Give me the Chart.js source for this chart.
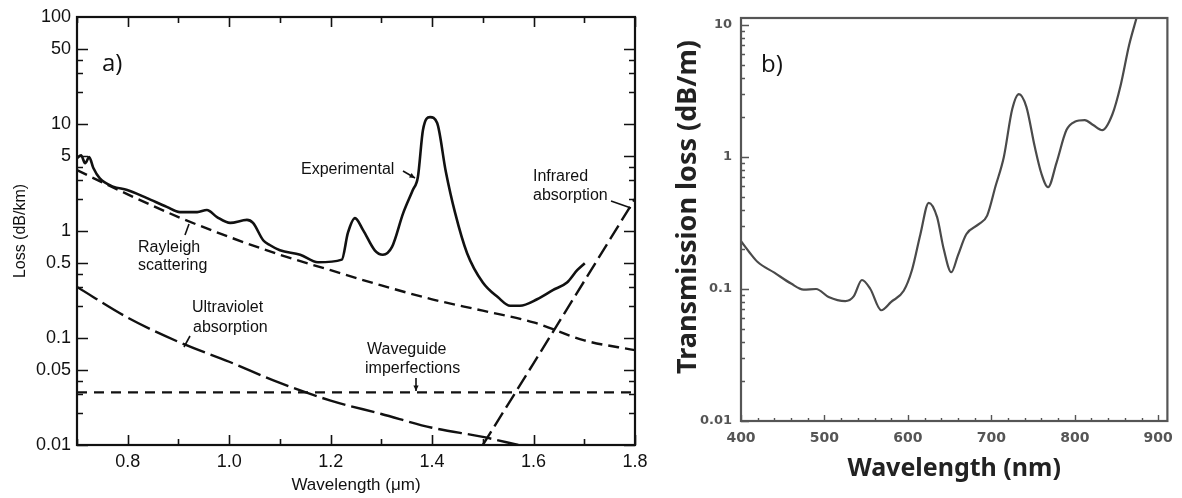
<!DOCTYPE html>
<html>
<head>
<meta charset="utf-8">
<script src="https://cdn.jsdelivr.net/npm/chart.js@4"></script>
<style>
  body { margin: 0; background: #fff; }
  #wrap { position: relative; width: 1182px; height: 498px; }
  canvas { position: absolute; top: 0; }
  #chartA { left: 0; }
  #chartB { left: 655px; }
</style>
</head>
<body>
<div id="wrap">
  <canvas id="chartA" width="655" height="498"></canvas>
  <canvas id="chartB" width="527" height="498"></canvas>
</div>
<script>
// ---- panel a) : fibre loss (dB/km) vs wavelength (um)
const expWl   = [0.700, 0.708, 0.716, 0.724, 0.732, 0.745, 0.771, 0.799, 0.838, 0.877, 0.903, 0.937, 0.956, 0.976, 1.002, 1.035, 1.047, 1.067, 1.080, 1.100, 1.140, 1.175, 1.222, 1.234, 1.248, 1.264, 1.287, 1.303, 1.321, 1.343, 1.362, 1.372, 1.382, 1.396, 1.410, 1.427, 1.445, 1.469, 1.500, 1.530, 1.554, 1.573, 1.607, 1.638, 1.666, 1.686, 1.701];
const expLoss = [4.8, 5.1, 4.3, 4.9, 3.9, 3.1, 2.6, 2.42, 2.03, 1.68, 1.50, 1.50, 1.57, 1.35, 1.19, 1.27, 1.19, 0.82, 0.74, 0.66, 0.60, 0.51, 0.54, 0.96, 1.32, 1.02, 0.66, 0.60, 0.71, 1.47, 2.42, 3.2, 8.8, 11.6, 10.2, 3.6, 1.5, 0.62, 0.33, 0.24, 0.20, 0.20, 0.23, 0.28, 0.33, 0.43, 0.50];

const rayWl   = [0.7, 0.8, 0.9, 1.0, 1.1, 1.2, 1.3, 1.4, 1.5, 1.6, 1.7, 1.8];
const rayLoss = [3.7, 2.2, 1.35, 0.88, 0.60, 0.43, 0.31, 0.23, 0.18, 0.14, 0.095, 0.077];

const uvWl   = [0.7, 0.8, 0.9, 1.0, 1.1, 1.2, 1.3, 1.4, 1.5, 1.57];
const uvLoss = [0.30, 0.155, 0.092, 0.06, 0.038, 0.026, 0.0195, 0.0145, 0.0119, 0.01];

const wgWl   = [0.7, 1.8];
const wgLoss = [0.031, 0.031];

const irWl   = [1.5, 1.6, 1.7, 1.8];
const irLoss = [0.01, 0.058, 0.34, 2.0];

const wlTicksA   = [0.8, 1.0, 1.2, 1.4, 1.6, 1.8];
const lossTicksA = [0.01, 0.05, 0.1, 0.5, 1, 5, 10, 50, 100];

// ---- panel b) : transmission loss (dB/m) vs wavelength (nm)
const transWl   = [400, 410, 420, 440, 460, 475, 490, 505, 525, 535, 545, 555, 568, 580, 595, 605, 615, 625, 635, 643, 652, 660, 670, 685, 695, 705, 715, 725, 733, 742, 752, 760, 768, 778, 790, 800, 812, 822, 833, 845, 855, 865, 874];
const transLoss = [0.23, 0.19, 0.16, 0.133, 0.11, 0.099, 0.10, 0.087, 0.081, 0.088, 0.117, 0.10, 0.069, 0.08, 0.097, 0.14, 0.26, 0.45, 0.35, 0.2, 0.134, 0.18, 0.26, 0.31, 0.36, 0.6, 1.0, 2.3, 3.0, 2.4, 1.2, 0.75, 0.59, 0.9, 1.6, 1.85, 1.9, 1.75, 1.6, 2.1, 3.5, 7.0, 11.3];

const wlTicksB   = [400, 500, 600, 700, 800, 900];
const lossTicksB = [0.01, 0.1, 1, 10];

function pts(xs, ys) { return xs.map((x, i) => ({ x: x, y: ys[i] })); }

// ticks drawn inside the frame, plus the frame itself
const frameTicks = {
  id: 'frameTicks',
  afterDraw(chart, args, o) {
    const { ctx, chartArea: a, scales: { x, y } } = chart;
    ctx.save();
    ctx.strokeStyle = o.color;
    ctx.lineWidth = o.tickWidth;
    ctx.beginPath();
    o.xTicks.forEach(t => {
      const px = Math.round(x.getPixelForValue(t.v)) + 0.5;
      ctx.moveTo(px, a.bottom); ctx.lineTo(px, a.bottom - t.len);
      if (o.top) { ctx.moveTo(px, a.top); ctx.lineTo(px, a.top + t.len); }
    });
    o.yTicks.forEach(t => {
      const py = Math.round(y.getPixelForValue(t.v)) + 0.5;
      ctx.moveTo(a.left, py); ctx.lineTo(a.left + t.len, py);
      if (o.right) { ctx.moveTo(a.right, py); ctx.lineTo(a.right - t.len, py); }
    });
    ctx.stroke();
    ctx.lineWidth = o.frameWidth;
    ctx.strokeRect(a.left, a.top, a.right - a.left, a.bottom - a.top);
    ctx.restore();
  }
};

// free text labels and their little leader lines
const notes = {
  id: 'notes',
  afterDraw(chart, args, o) {
    const ctx = chart.ctx;
    ctx.save();
    ctx.textBaseline = 'middle';
    ctx.textAlign = 'left';
    o.texts.forEach(t => {
      ctx.save();
      ctx.fillStyle = t.color || o.color;
      ctx.font = t.font;
      ctx.translate(t.x, t.y);
      if (t.rot) ctx.rotate(t.rot);
      ctx.fillText(t.text, 0, 0);
      ctx.restore();
    });
    ctx.fillStyle = o.color;
    ctx.strokeStyle = o.color;
    ctx.lineWidth = 1.6;
    (o.leaders || []).forEach(l => {
      ctx.beginPath();
      ctx.moveTo(l[0], l[1]); ctx.lineTo(l[2], l[3]);
      ctx.stroke();
      if (l[4]) {
        const ang = Math.atan2(l[3] - l[1], l[2] - l[0]);
        ctx.beginPath();
        ctx.moveTo(l[2], l[3]);
        ctx.lineTo(l[2] - 6 * Math.cos(ang - 0.45), l[3] - 6 * Math.sin(ang - 0.45));
        ctx.lineTo(l[2] - 6 * Math.cos(ang + 0.45), l[3] - 6 * Math.sin(ang + 0.45));
        ctx.closePath();
        ctx.fill();
      }
    });
    ctx.restore();
  }
};

// tick mark lists for the frames
const ticksAx = [], ticksAy = [], ticksBx = [], ticksBy = [];
for (let i = 7; i <= 18; i++) ticksAx.push({ v: i / 10, len: i % 2 === 0 ? 10 : 6 });
[0.01, 0.1, 1, 10].forEach(d => {
  for (let m = 1; m <= 5; m++) ticksAy.push({ v: d * m, len: (m === 1 || m === 5) ? 11 : 6 });
});
for (let w = 400; w <= 900; w += 20) ticksBx.push({ v: w, len: w % 100 === 0 ? 6 : 3 });
[0.01, 0.1, 1].forEach(d => {
  for (let m = 1; m <= 9; m++) ticksBy.push({ v: d * m, len: m === 1 ? 8 : 4 });
});
ticksBy.push({ v: 10, len: 8 });

const fontA = 'Liberation Sans';
const ink = '#111';

function lineSet(data, width, dash) {
  return {
    data: data, borderColor: ink, borderWidth: width, borderDash: dash || [],
    pointRadius: 0, fill: false, cubicInterpolationMode: 'monotone', borderCapStyle: 'butt'
  };
}

new Chart(document.getElementById('chartA'), {
  type: 'line',
  data: {
    datasets: [
      lineSet(pts(expWl, expLoss), 2.6),
      lineSet(pts(rayWl, rayLoss), 2.4, [11, 6]),
      lineSet(pts(uvWl, uvLoss), 2.4, [24, 6]),
      lineSet(pts(wgWl, wgLoss), 2.4, [10, 7]),
      Object.assign(lineSet(pts(irWl, irLoss), 2.4, [16, 6]), { cubicInterpolationMode: 'default', tension: 0 })
    ]
  },
  options: {
    responsive: false,
    animation: false,
    layout: { padding: { top: 17, right: 20, left: 0, bottom: 0 } },
    plugins: {
      legend: { display: false },
      tooltip: { enabled: false },
      frameTicks: { color: ink, tickWidth: 1.6, frameWidth: 2.2, xTicks: ticksAx, yTicks: ticksAy, top: true, right: true },
      notes: {
        color: ink,
        texts: [
          { text: 'a)', x: 102, y: 64, font: '24px "Open Sans"' },
          { text: 'Experimental', x: 301, y: 170, font: '16px "Liberation Sans"' },
          { text: 'Infrared', x: 533, y: 177, font: '16px "Liberation Sans"' },
          { text: 'absorption', x: 533, y: 196, font: '16px "Liberation Sans"' },
          { text: 'Rayleigh', x: 138, y: 248, font: '16px "Liberation Sans"' },
          { text: 'scattering', x: 138, y: 266, font: '16px "Liberation Sans"' },
          { text: 'Ultraviolet', x: 192, y: 308, font: '16px "Liberation Sans"' },
          { text: 'absorption', x: 193, y: 328, font: '16px "Liberation Sans"' },
          { text: 'Waveguide', x: 367, y: 350, font: '16px "Liberation Sans"' },
          { text: 'imperfections', x: 365, y: 369, font: '16px "Liberation Sans"' }
        ],
        leaders: [
          [403, 171, 415, 178, true],
          [611, 201, 631, 208, false],
          [185, 235, 189, 224, false],
          [190, 336, 184, 347, false],
          [416, 378, 416, 391, true]
        ]
      }
    },
    scales: {
      x: {
        type: 'linear', min: 0.7, max: 1.8,
        afterFit: s => { s.height = 53; },
        afterBuildTicks: s => { s.ticks = wlTicksA.map(v => ({ value: v })); },
        grid: { display: false, drawTicks: false },
        border: { display: false },
        ticks: { autoSkip: false, maxRotation: 0, padding: 6, color: ink, font: { family: fontA, size: 18 }, callback: v => v.toFixed(1) },
        title: { display: true, text: 'Wavelength (μm)', color: ink, font: { family: fontA, size: 17 }, padding: { top: 0, bottom: 2 } }
      },
      y: {
        type: 'logarithmic', min: 0.01, max: 100,
        afterFit: s => { s.width = 77; },
        afterBuildTicks: s => { s.ticks = lossTicksA.map(v => ({ value: v })); },
        grid: { display: false, drawTicks: false },
        border: { display: false },
        ticks: { autoSkip: false, padding: 6, color: ink, font: { family: fontA, size: 18 }, callback: v => String(v) },
        title: { display: true, text: 'Loss (dB/km)', color: ink, font: { family: fontA, size: 16 }, padding: { top: 11, bottom: 0 } }
      }
    }
  },
  plugins: [frameTicks, notes]
});

const inkB = '#4a4a4a';

new Chart(document.getElementById('chartB'), {
  type: 'line',
  data: {
    datasets: [{
      data: pts(transWl, transLoss), borderColor: inkB, borderWidth: 2.2,
      pointRadius: 0, fill: false, cubicInterpolationMode: 'monotone'
    }]
  },
  options: {
    responsive: false,
    animation: false,
    layout: { padding: { top: 18, right: 8, left: 0, bottom: 0 } },
    plugins: {
      legend: { display: false },
      tooltip: { enabled: false },
      frameTicks: { color: '#555', tickWidth: 1.4, frameWidth: 2.2, xTicks: ticksBx, yTicks: ticksBy, top: false, right: false },
      notes: {
        color: '#111',
        texts: [
          { text: 'b)', x: 106, y: 65, font: '24px "Open Sans"' },
          { text: 'Transmission loss (dB/m)', x: 33, y: 374, rot: -Math.PI / 2, color: '#222', font: 'bold 27px "Noto Sans"' }
        ]
      }
    },
    scales: {
      x: {
        type: 'linear', min: 400, max: 911,
        afterFit: s => { s.height = 77; },
        afterBuildTicks: s => { s.ticks = wlTicksB.map(v => ({ value: v })); },
        grid: { display: false, drawTicks: false },
        border: { display: false },
        ticks: { autoSkip: false, maxRotation: 0, padding: 9, color: '#555', font: { family: 'DejaVu Sans', size: 14, weight: 'bold' }, callback: v => String(v) },
        title: { display: true, text: 'Wavelength (nm)', color: '#222', font: { family: 'Noto Sans', size: 25, weight: 'bold' }, padding: { top: 0, bottom: 14 } }
      },
      y: {
        type: 'logarithmic', min: 0.01, max: 11.3,
        afterFit: s => { s.width = 86; },
        afterBuildTicks: s => { s.ticks = lossTicksB.map(v => ({ value: v })); },
        grid: { display: false, drawTicks: false },
        border: { display: false },
        ticks: { autoSkip: false, padding: 9, color: '#555', font: { family: 'DejaVu Sans', size: 13, weight: 'bold' }, callback: v => String(v) }
      }
    }
  },
  plugins: [frameTicks, notes]
});
</script>
</body>
</html>
